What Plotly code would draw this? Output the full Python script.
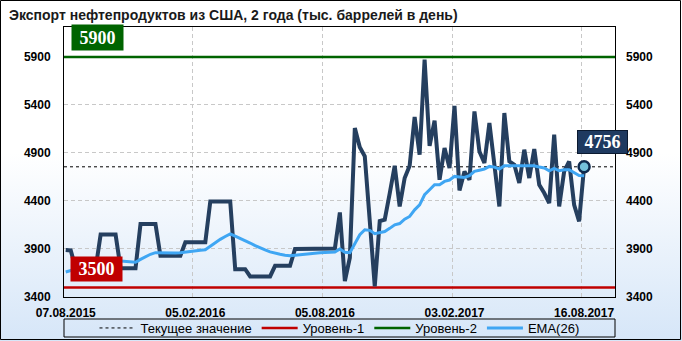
import base64
import plotly.graph_objects as go

# ---------------- data ----------------
title_text = "Экспорт нефтепродуктов из США, 2 года (тыс. баррелей в день)"
tick_positions = [0, 26, 52, 78, 104]
tick_labels = ["07.08.2015", "05.02.2016", "05.08.2016", "03.02.2017", "16.08.2017"]
grid_positions = [25.5, 51.5, 77.5, 103.4]

exports = [
    3890, 3885, 3700, 3700, 3700, 3700, 3700, 4050, 4050, 4050,
    4050, 3700, 3700, 3700, 3700, 4160, 4160, 4160, 4160, 3830,
    3830, 3830, 3830, 3830, 3970, 3970, 3970, 3970, 3970, 4395,
    4395, 4395, 4395, 4395, 3690, 3690, 3690, 3614, 3614, 3614,
    3614, 3614, 3725, 3725, 3725, 3725, 3900, 3900, 3900, 3900,
    3905, 3905, 3905, 3905, 3905, 4280, 3565, 3810, 5160, 4960,
    4865, 4190, 3510, 4190, 4205, 4480, 4767, 4343, 4640, 4767,
    5274, 4882, 5872, 4975, 5236, 4621, 4951, 4743, 5390, 4510,
    4708, 4621, 5333, 4916, 4795, 5212, 4795, 4343, 5316, 4812,
    4777, 4587, 4934, 4639, 4941, 4569, 4483, 4378, 5090, 4343,
    4708, 4812, 4360, 4187, 4756,
]
ema26 = [
    3660, 3675, 3680, 3683, 3686, 3690, 3692, 3718, 3740, 3760,
    3778, 3776, 3770, 3766, 3762, 3792, 3820, 3845, 3862, 3860,
    3858, 3858, 3858, 3860, 3868, 3875, 3882, 3887, 3892, 3930,
    3965, 4000, 4030, 4058, 4033, 4010, 3990, 3962, 3935, 3910,
    3890, 3870, 3855, 3845, 3836, 3830, 3836, 3842, 3846, 3850,
    3855, 3860, 3864, 3866, 3868, 3900, 3866, 3862, 3962, 4048,
    4100, 4094, 4060, 4070, 4082, 4115, 4152, 4165, 4210, 4239,
    4308, 4360, 4465, 4517, 4569, 4570, 4604, 4618, 4656, 4650,
    4645, 4663, 4708, 4720, 4733, 4760, 4753, 4733, 4767, 4767,
    4767, 4760, 4767, 4767, 4767, 4753, 4743, 4715, 4740, 4715,
    4725, 4725, 4698, 4665, 4663,
]
level1 = 3500
level2 = 5900
current_value = exports[-1]
weeks = list(range(len(exports)))

legend_names = ["Текущее значение", "Уровень-1", "Уровень-2", "EMA(26)"]

# ---------------- layout constants ----------------
W, H = 682, 341
ML, MR, MT, MB = 64, 67, 27, 44
PW, PH = W - ML - MR, H - MT - MB
XRANGE = [-0.35, 110.2]
YRANGE = [3400, 6212]
YTICKS = [3400, 3900, 4400, 4900, 5400, 5900]

C_DATA = "#253f5f"
C_EMA = "#3fa6f3"
C_L1 = "#c00000"
C_L2 = "#006400"
C_CUR_BOX = "#1f3a60"

TICK_FONT = dict(family="Liberation Sans", size=12, color="#000000", weight="bold")


def px_x(px):
    return (px - ML) / PW


def px_y(py):
    return (H - MB - py) / PH


fig = go.Figure()

fig.add_trace(go.Scatter(
    x=XRANGE, y=[current_value, current_value], mode="lines",
    line=dict(color="#000000", width=1, dash="3px,3px"),
    name=legend_names[0], hoverinfo="skip",
))
fig.add_trace(go.Scatter(
    x=XRANGE, y=[level1, level1], mode="lines",
    line=dict(color=C_L1, width=2.5), name=legend_names[1], hoverinfo="skip",
))
fig.add_trace(go.Scatter(
    x=XRANGE, y=[level2, level2], mode="lines",
    line=dict(color=C_L2, width=2.5), name=legend_names[2], hoverinfo="skip",
))
fig.add_trace(go.Scatter(
    x=weeks, y=exports, mode="lines",
    line=dict(color=C_DATA, width=4), showlegend=False, name="Экспорт",
))
fig.add_trace(go.Scatter(
    x=weeks, y=ema26, mode="lines",
    line=dict(color=C_EMA, width=3), name=legend_names[3],
))
fig.add_trace(go.Scatter(
    x=[weeks[-1]], y=[current_value], mode="markers", yaxis="y2",
    marker=dict(size=11, color="#74c2dc", line=dict(color="#0f2a4e", width=2.5)),
    showlegend=False, hoverinfo="skip",
))

# gradient background
svg = (
    '<svg xmlns="http://www.w3.org/2000/svg" width="682" height="341" preserveAspectRatio="none">'
    '<defs><linearGradient id="g" x1="0" y1="0" x2="0" y2="1">'
    '<stop offset="0" stop-color="#ffffff"/>'
    '<stop offset="0.45" stop-color="#ffffff"/>'
    '<stop offset="1" stop-color="#d6e6f8"/>'
    '</linearGradient></defs>'
    '<rect width="682" height="341" fill="url(#g)"/></svg>'
)
src = "data:image/svg+xml;base64," + base64.b64encode(svg.encode()).decode()

fig.update_layout(
    width=W, height=H, autosize=False,
    margin=dict(l=ML, r=MR, t=MT, b=MB, pad=0, autoexpand=False),
    paper_bgcolor="#ffffff", plot_bgcolor="rgba(0,0,0,0)",
    images=[dict(
        source=src, xref="paper", yref="paper",
        x=px_x(0), y=px_y(0), sizex=W / PW, sizey=H / PH,
        xanchor="left", yanchor="top", sizing="stretch", layer="below",
    )],
    title=dict(
        text=title_text, x=9 / W, xanchor="left", xref="container",
        y=1 - 15 / H, yanchor="middle", yref="container",
        font=dict(family="Liberation Sans", size=14, color="#1a1a1a", weight="bold"),
    ),
    showlegend=True,
    legend=dict(
        orientation="h", x=0.5, xanchor="center", xref="paper",
        y=px_y(328), yanchor="middle", yref="paper",
        font=dict(family="Liberation Sans", size=13, color="#000000"),
        bgcolor="rgba(0,0,0,0)", borderwidth=0, itemwidth=36,
        traceorder="normal",
    ),
    xaxis=dict(
        range=XRANGE, tickmode="array", tickvals=tick_positions, ticktext=tick_labels,
        showgrid=False, zeroline=False, ticks="", tickfont=TICK_FONT,
        showline=True, linecolor="#000000", linewidth=1, mirror=True,
        ticklabelstandoff=5,
        minor=dict(tickvals=grid_positions, showgrid=True, gridcolor="#c8c8c8",
                   griddash="4px,3px", gridwidth=1, ticks=""),
    ),
    yaxis=dict(
        range=YRANGE, tickmode="array", tickvals=YTICKS,
        showgrid=True, gridcolor="#c8c8c8", griddash="4px,3px", gridwidth=1,
        zeroline=False, ticks="", tickfont=TICK_FONT,
        showline=True, linecolor="#000000", linewidth=1, mirror=True,
        ticklabelstandoff=10,
    ),
    yaxis2=dict(
        range=YRANGE, tickmode="array", tickvals=YTICKS, overlaying="y", side="right",
        showgrid=False, zeroline=False, ticks="", tickfont=TICK_FONT,
        ticklabelstandoff=10, showline=False,
    ),
    shapes=[
        dict(type="rect", xref="paper", yref="paper",
             x0=px_x(0.5), x1=px_x(680.5), y0=px_y(339.5), y1=px_y(0.5),
             line=dict(color="#000000", width=1), fillcolor="rgba(0,0,0,0)", layer="above"),
        dict(type="rect", xref="paper", yref="paper",
             x0=0, x1=1, y0=px_y(337), y1=px_y(319),
             line=dict(color="#000000", width=1), fillcolor="rgba(0,0,0,0)", layer="above"),
    ],
    annotations=[
        dict(text=str(level2), xref="paper", x=px_x(71), xanchor="left",
             yref="y", y=level2, yanchor="bottom", yshift=6,
             showarrow=False, bgcolor=C_L2, width=49, height=23,
             font=dict(family="Liberation Serif", size=18, color="#ffffff", weight="bold")),
        dict(text=str(level1), xref="paper", x=px_x(70), xanchor="left",
             yref="y", y=level1, yanchor="bottom", yshift=5,
             showarrow=False, bgcolor=C_L1, width=49, height=22,
             font=dict(family="Liberation Serif", size=18, color="#ffffff", weight="bold")),
        dict(text=str(current_value), xref="x", x=weeks[-1], xanchor="left", xshift=-7,
             yref="y", y=current_value, yanchor="bottom", yshift=13,
             showarrow=False, bgcolor=C_CUR_BOX, bordercolor="#0b1a30", borderwidth=1,
             width=47, height=20,
             font=dict(family="Liberation Serif", size=18, color="#ffffff", weight="bold")),
    ],
)

fig.write_html("out.html")
